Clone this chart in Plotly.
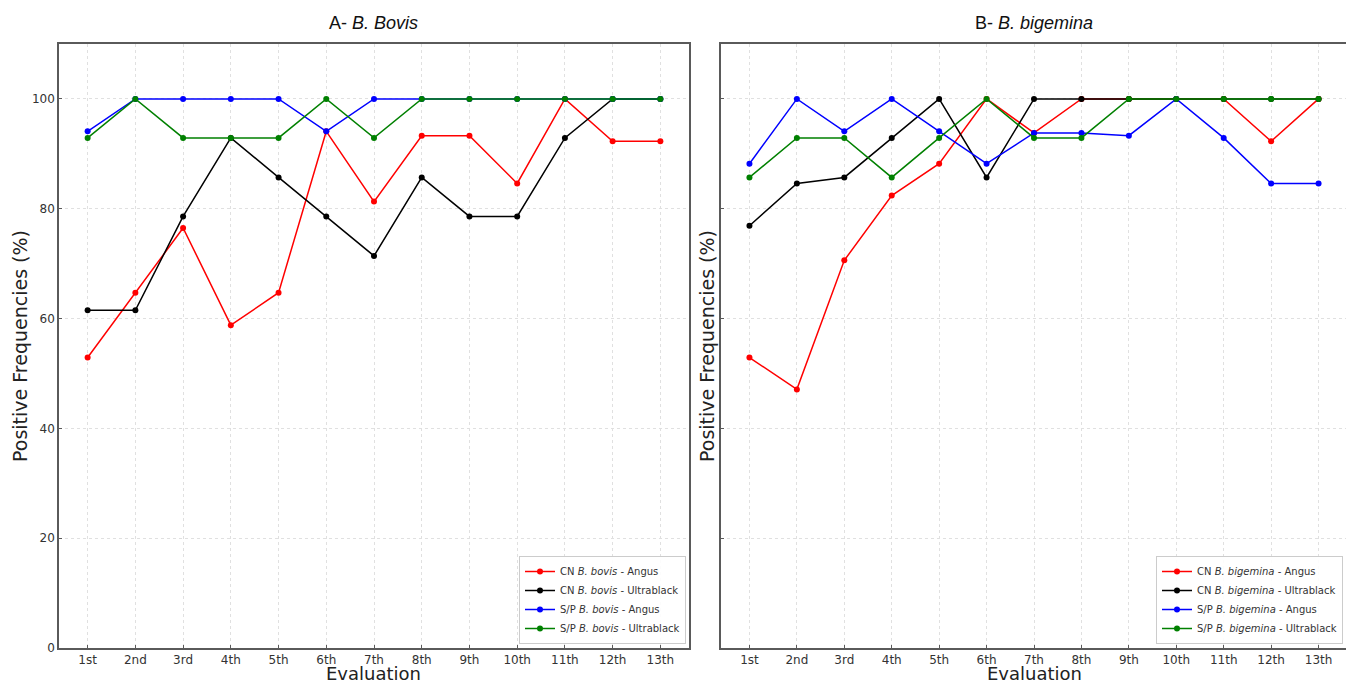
import plotly.graph_objects as go

evaluations = ["1st", "2nd", "3rd", "4th", "5th", "6th", "7th", "8th", "9th", "10th", "11th", "12th", "13th"]
y_ticks = [0, 20, 40, 60, 80, 100]

# Panel A - B. bovis
bovis_cn_angus = [52.9, 64.7, 76.5, 58.8, 64.7, 94.1, 81.3, 93.3, 93.3, 84.6, 100, 92.3, 92.3]
bovis_cn_ultrablack = [61.5, 61.5, 78.6, 92.9, 85.7, 78.6, 71.4, 85.7, 78.6, 78.6, 92.9, 100, 100]
bovis_sp_angus = [94.1, 100, 100, 100, 100, 94.1, 100, 100, 100, 100, 100, 100, 100]
bovis_sp_ultrablack = [92.9, 100, 92.9, 92.9, 92.9, 100, 92.9, 100, 100, 100, 100, 100, 100]

# Panel B - B. bigemina
bigemina_cn_angus = [52.9, 47.1, 70.6, 82.4, 88.2, 100, 93.8, 100, 100, 100, 100, 92.3, 100]
bigemina_cn_ultrablack = [76.9, 84.6, 85.7, 92.9, 100, 85.7, 100, 100, 100, 100, 100, 100, 100]
bigemina_sp_angus = [88.2, 100, 94.1, 100, 94.1, 88.2, 93.8, 93.8, 93.3, 100, 92.9, 84.6, 84.6]
bigemina_sp_ultrablack = [85.7, 92.9, 92.9, 85.7, 92.9, 100, 92.9, 92.9, 100, 100, 100, 100, 100]

colors = ["#ff0000", "#000000", "#0000ff", "#008000"]
x_idx = list(range(1, len(evaluations) + 1))

# page body has an 8px margin: the figure is placed at (8, 8) and runs to the window edges
OFF = 8
W, H = 1354 - OFF, 684 - OFF
def px_x(p):
    return min(max((p - OFF) / W, 0), 1)
def px_y(p):
    return min(max((H + OFF - p) / H, 0), 1)

fig = go.Figure()

panels = [
    ("x", "y", "legend", "bovis", [bovis_cn_angus, bovis_cn_ultrablack, bovis_sp_angus, bovis_sp_ultrablack]),
    ("x2", "y2", "legend2", "bigemina", [bigemina_cn_angus, bigemina_cn_ultrablack, bigemina_sp_angus, bigemina_sp_ultrablack]),
]
labels = ["CN <i>B. {}</i> - Angus", "CN <i>B. {}</i> - Ultrablack",
          "S/P <i>B. {}</i> - Angus", "S/P <i>B. {}</i> - Ultrablack"]

for xa, ya, leg, sp, series in panels:
    for lab, col, vals in zip(labels, colors, series):
        fig.add_trace(go.Scatter(
            x=x_idx, y=vals, mode="lines+markers", name=lab.format(sp),
            line=dict(color=col, width=1.5), marker=dict(color=col, size=6),
            xaxis=xa, yaxis=ya, legend=leg,
        ))

axis_common = dict(
    showline=True, linecolor="#5a5a5a", linewidth=1.6, mirror=True,
    showgrid=True, gridcolor="#e0e0e0", griddash="dot", gridwidth=1,
    ticks="inside", ticklen=3, tickcolor="#5a5a5a",
    tickfont=dict(family="DejaVu Sans", size=12, color="#333333"),
    zeroline=False, automargin=False,
)

xdom1 = [px_x(59), px_x(689)]
xdom2 = [px_x(721), px_x(1347)]
ydom = [px_y(648), px_y(44)]

xaxis_cfg = dict(axis_common, range=[0.4, 13.6], tickmode="array", tickvals=x_idx, ticktext=evaluations)
yaxis_cfg = dict(axis_common, range=[0, 110], tickmode="array", tickvals=y_ticks)

legend_common = dict(
    font=dict(family="DejaVu Sans", size=10, color="#333333"),
    bgcolor="rgba(255,255,255,0.9)", bordercolor="#cccccc", borderwidth=1,
    xanchor="right", yanchor="bottom", tracegroupgap=0, itemwidth=30,
)

title_font = dict(family="Liberation Sans", size=18, color="#111111")
axis_title_font = dict(family="DejaVu Sans", size=19, color="#222222")
xtitle_font = dict(family="DejaVu Sans", size=18, color="#222222")

annotations = [
    dict(text="A- <i>B. Bovis</i>", x=(xdom1[0] + xdom1[1]) / 2, y=px_y(23), font=title_font),
    dict(text="B- <i>B. bigemina</i>", x=(xdom2[0] + xdom2[1]) / 2, y=px_y(23), font=title_font),
    dict(text="Evaluation", x=(xdom1[0] + xdom1[1]) / 2, y=px_y(673.5), font=xtitle_font, borderpad=0),
    dict(text="Evaluation", x=(xdom2[0] + xdom2[1]) / 2, y=px_y(673.5), font=xtitle_font, borderpad=0),
    dict(text="Positive Frequencies (%)", x=px_x(20), y=(ydom[0] + ydom[1]) / 2, font=axis_title_font, textangle=-90),
    dict(text="Positive Frequencies (%)", x=px_x(707), y=(ydom[0] + ydom[1]) / 2, font=axis_title_font, textangle=-90),
]
for a in annotations:
    a.update(xref="paper", yref="paper", showarrow=False, xanchor="center", yanchor="middle")

fig.update_layout(
    width=W, height=H,
    margin=dict(l=0, r=0, t=0, b=0, autoexpand=False),
    paper_bgcolor="white", plot_bgcolor="white",
    xaxis=dict(xaxis_cfg, domain=xdom1, anchor="y"),
    yaxis=dict(yaxis_cfg, domain=ydom, anchor="x"),
    xaxis2=dict(xaxis_cfg, domain=xdom2, anchor="y2"),
    yaxis2=dict(yaxis_cfg, domain=ydom, anchor="x2", showticklabels=False),
    legend=dict(legend_common, x=px_x(686), y=px_y(644)),
    legend2=dict(legend_common, x=px_x(1343), y=px_y(644)),
    annotations=annotations,
)

fig.write_html("out.html")
